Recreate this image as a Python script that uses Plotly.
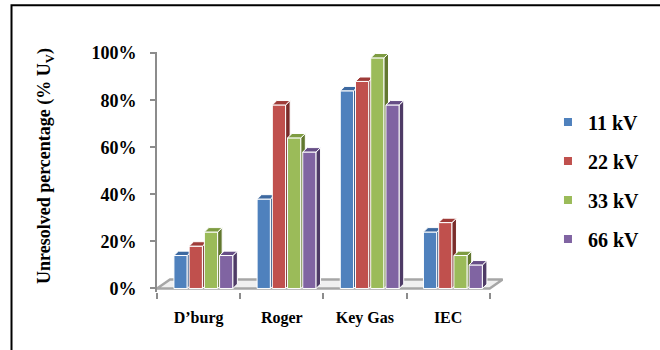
import plotly.graph_objects as go

# ---------------- data ----------------
categories = ["D\u2019burg", "Roger", "Key Gas", "IEC"]
series_names = ["11 kV", "22 kV", "33 kV", "66 kV"]
kv11 = [14, 38, 84, 24]
kv22 = [18, 78, 88, 28]
kv33 = [24, 64, 98, 14]
kv66 = [14, 58, 78, 10]
y_tick_vals = [0, 20, 40, 60, 80, 100]
y_tick_text = ["0%", "20%", "40%", "60%", "80%", "100%"]

series_values = [kv11, kv22, kv33, kv66]

# ---------------- style ----------------
front_colors = ["#4F81BD", "#C0504D", "#9BBB59", "#8064A2"]
top_colors = ["#3D69A0", "#9E3B38", "#7E9C42", "#664E86"]
side_colors = ["#2E5283", "#7A2C2A", "#62782F", "#4E3B66"]
FONT = "Liberation Serif"

bar_w = 0.16      # front face width (category units)
bar_step = 0.183  # distance between bars in a cluster
group_shift = 0.058
dx, dy = 0.054, 1.87       # 3-D depth offset (x units, % units)
floor_dx, floor_dy = 0.156, 3.8

fig = go.Figure()

# floor (base subplot)
n = len(categories)
fx = [-0.5, n - 0.5, n - 0.5 + floor_dx, -0.5 + floor_dx, -0.5]
fy = [0, 0, floor_dy, floor_dy, 0]
fig.add_trace(go.Scatter(x=fx, y=fy, mode="lines", fill="toself",
                         fillcolor="#f0f0f0", line=dict(color="#a6a6a6", width=2.5),
                         hoverinfo="skip", showlegend=False, xaxis="x", yaxis="y"))

for j, (name, vals) in enumerate(zip(series_names, series_values)):
    xa = "x%d" % (j + 2)
    xs = [i + group_shift + (j - 1.5) * bar_step for i in range(len(categories))]
    fig.add_trace(go.Bar(x=xs, y=vals, width=bar_w, name=name,
                         marker=dict(color=front_colors[j], line=dict(color="white", width=1)),
                         showlegend=False, hoverinfo="skip", xaxis=xa, yaxis="y"))
    tx, ty, sx, sy = [], [], [], []
    for x, v in zip(xs, vals):
        l, r = x - bar_w / 2, x + bar_w / 2
        tx += [l, l + dx, r + dx, r, l, None]
        ty += [v, v + dy, v + dy, v, v, None]
        sx += [r, r + dx, r + dx, r, r, None]
        sy += [v, v + dy, dy, 0, v, None]
    fig.add_trace(go.Scatter(x=sx, y=sy, mode="lines", fill="toself",
                             fillcolor=side_colors[j], line=dict(color="white", width=1),
                             hoverinfo="skip", showlegend=False, xaxis=xa, yaxis="y"))
    fig.add_trace(go.Scatter(x=tx, y=ty, mode="lines", fill="toself",
                             fillcolor=top_colors[j], line=dict(color="white", width=1),
                             hoverinfo="skip", showlegend=False, xaxis=xa, yaxis="y"))
    # legend entry
    fig.add_trace(go.Scatter(x=[None], y=[None], mode="markers", name=name,
                             legendgroup=name,
                             marker=dict(symbol="square", size=8, color=front_colors[j]),
                             xaxis=xa, yaxis="y"))

xr = [-0.5, 3.66]
axis_common = dict(range=xr, showgrid=False, zeroline=False, fixedrange=True)
layout = dict(
    width=660, height=350,
    margin=dict(l=157, r=157, t=52, b=58, autoexpand=False),
    paper_bgcolor="white", plot_bgcolor="rgba(0,0,0,0)",
    barmode="overlay",
    showlegend=True,
    font=dict(family=FONT, color="black"),
    xaxis=dict(**axis_common, tickmode="array", tickvals=list(range(len(categories))),
               ticktext=categories, ticks="", showline=False,
               tickfont=dict(family=FONT, size=16, weight="bold", color="black"),
               ticklabelstandoff=14,
               minor=dict(tickmode="array", tickvals=[i - 0.5 for i in range(len(categories) + 1)],
                          ticks="outside", ticklen=6, tickwidth=2, tickcolor="#8c8c8c")),
    yaxis=dict(range=[-1.5, 100.5], tickmode="array", tickvals=y_tick_vals, ticktext=y_tick_text,
               showgrid=False, zeroline=False, showline=True, linecolor="#8c8c8c", linewidth=2,
               ticks="outside", ticklen=5, tickwidth=2, tickcolor="#8c8c8c",
               ticklabelstandoff=10,
               tickfont=dict(family=FONT, size=18, weight="bold", color="black"), fixedrange=True),
    legend=dict(x=1.13, y=0.79, xanchor="left", yanchor="top",
                font=dict(family=FONT, size=20, weight="bold", color="black"),
                tracegroupgap=10, bgcolor="rgba(0,0,0,0)"),
    annotations=[dict(text="<b>Unresolved percentage (% U<sub>V</sub>)</b>", textangle=-90,
                      xref="paper", yref="paper", x=-0.3237, y=0.525, showarrow=False,
                      xanchor="center", yanchor="middle",
                      font=dict(family=FONT, size=18, color="black"))],
    shapes=[dict(type="rect", xref="paper", yref="paper", x0=-0.4205, x1=1.6, y0=-0.5, y1=1.1948,
                 line=dict(color="black", width=2), fillcolor="rgba(0,0,0,0)", layer="below")],
)
for k in range(2, 6):
    layout["xaxis%d" % k] = dict(**axis_common, overlaying="x", visible=False)
fig.update_layout(**layout)

fig.write_html("out.html")
